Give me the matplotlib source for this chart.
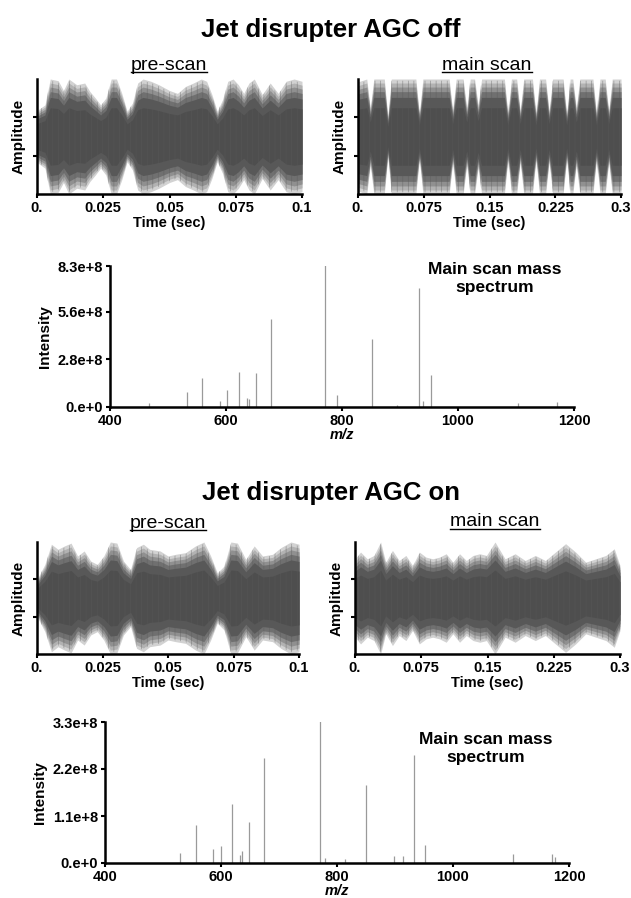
import matplotlib
matplotlib.use("Agg")
import matplotlib.pyplot as plt
from matplotlib.lines import Line2D
import numpy as np

plt.rcParams['font.family'] = ['Liberation Sans', 'DejaVu Sans']
plt.rcParams['hatch.linewidth'] = 0.5

# ---- time-domain transients: upper envelope (normalised) ----
pre_off_t = [0, 0.003, 0.005, 0.008, 0.010, 0.012, 0.015, 0.018, 0.020, 0.022, 0.024,
             0.026, 0.028, 0.030, 0.032, 0.034, 0.036, 0.038, 0.040, 0.043, 0.046,
             0.050, 0.053, 0.056, 0.059, 0.062, 0.064, 0.066, 0.068, 0.070, 0.072,
             0.074, 0.076, 0.078, 0.080, 0.082, 0.085, 0.088, 0.091, 0.094, 0.097, 0.1]
pre_off_amp = [0.45, 0.55, 1.0, 0.97, 0.8, 1.0, 0.9, 0.93, 0.78, 0.67, 0.55,
               0.67, 1.0, 1.0, 0.75, 0.44, 0.58, 0.93, 1.0, 0.96, 0.9,
               0.8, 0.75, 0.87, 0.93, 1.0, 0.96, 0.73, 0.44, 0.64, 0.96,
               1.0, 0.9, 0.75, 0.93, 1.0, 0.73, 0.93, 0.75, 0.96, 1.0, 0.96]

main_off_t = [0, 0.010, 0.014, 0.018, 0.030, 0.034, 0.038, 0.066, 0.070, 0.074,
              0.104, 0.108, 0.112, 0.120, 0.124, 0.128, 0.133, 0.137, 0.141,
              0.167, 0.171, 0.175, 0.181, 0.185, 0.189, 0.199, 0.203, 0.207,
              0.214, 0.218, 0.222, 0.234, 0.238, 0.242, 0.245, 0.249, 0.253,
              0.268, 0.272, 0.276, 0.282, 0.286, 0.290, 0.3]
main_off_amp = [0.95, 1.0, 0.5, 1.0, 1.0, 0.35, 1.0, 1.0, 0.4, 1.0,
                1.0, 0.45, 1.0, 1.0, 0.5, 1.0, 1.0, 0.55, 1.0,
                1.0, 0.4, 1.0, 1.0, 0.45, 1.0, 1.0, 0.4, 1.0,
                1.0, 0.45, 1.0, 1.0, 0.4, 1.0, 1.0, 0.5, 1.0,
                1.0, 0.4, 1.0, 1.0, 0.45, 1.0, 1.0]

pre_on_t = [0, 0.003, 0.0055, 0.008, 0.0105, 0.013, 0.0155, 0.018, 0.0205, 0.023,
            0.0255, 0.028, 0.0305, 0.033, 0.0357, 0.038, 0.0406, 0.043, 0.047, 0.050,
            0.0529, 0.0567, 0.0605, 0.0637, 0.0663, 0.0688, 0.0714, 0.074, 0.0765,
            0.0797, 0.0829, 0.0861, 0.0899, 0.0931, 0.0969, 0.1]
pre_on_amp = [0.33, 0.6, 0.96, 0.87, 0.93, 0.98, 0.75, 0.84, 0.66, 0.6,
              0.75, 1.0, 0.98, 0.66, 0.51, 0.9, 0.96, 0.87, 0.84, 0.75,
              0.78, 0.81, 0.93, 1.0, 0.75, 0.45, 0.57, 1.0, 0.98,
              0.69, 0.93, 0.75, 0.78, 0.9, 1.0, 0.96]

main_on_t = [0, 0.0063, 0.0139, 0.0215, 0.029, 0.0348, 0.0424, 0.05, 0.0576, 0.0652,
             0.0728, 0.0804, 0.088, 0.0956, 0.1032, 0.1108, 0.1184, 0.126, 0.1336,
             0.1412, 0.1488, 0.1585, 0.1699, 0.1813, 0.1927, 0.2041, 0.2155, 0.2269,
             0.2384, 0.2498, 0.2612, 0.2726, 0.284, 0.2935, 0.3]
main_on_amp = [0.7, 0.82, 0.7, 0.76, 1.0, 0.64, 0.85, 0.67, 0.76, 0.58,
               0.82, 0.73, 0.7, 0.73, 0.79, 0.64, 0.79, 0.67, 0.76,
               0.79, 0.76, 1.0, 0.7, 0.79, 0.67, 0.76, 0.67, 0.82,
               0.97, 0.82, 0.64, 0.7, 0.76, 0.88, 0.58]

pre_ticks = [0, 0.025, 0.05, 0.075, 0.1]
pre_labels = ['0.', '0.025', '0.05', '0.075', '0.1']
main_ticks = [0, 0.075, 0.15, 0.225, 0.3]
main_labels = ['0.', '0.075', '0.15', '0.225', '0.3']

# ---- mass spectra (m/z, intensity) ----
off_mz = [467, 533, 558, 589, 602, 622, 636, 640, 651, 678, 771, 792,
          852, 895, 933, 940, 953, 1103, 1171]
off_int = [0.25e8, 0.9e8, 1.72e8, 0.35e8, 1.02e8, 2.07e8, 0.55e8, 0.5e8, 2.0e8,
           5.2e8, 8.35e8, 0.7e8, 4.03e8, 0.1e8, 7.03e8, 0.35e8, 1.88e8, 0.25e8, 0.3e8]
off_yticks = [0, 2.8e8, 5.6e8, 8.3e8]
off_ylabels = ['0.e+0', '2.8e+8', '5.6e+8', '8.3e+8']

on_mz = [530, 557, 587, 600, 619, 633, 637, 649, 675, 771, 780, 813,
         850, 898, 914, 932, 952, 1104, 1170, 1176]
on_int = [0.23e8, 0.90e8, 0.33e8, 0.39e8, 1.37e8, 0.18e8, 0.28e8, 0.96e8, 2.46e8,
          3.32e8, 0.12e8, 0.1e8, 1.83e8, 0.16e8, 0.16e8, 2.52e8, 0.41e8, 0.2e8,
          0.2e8, 0.15e8]
on_yticks = [0, 1.1e8, 2.2e8, 3.3e8]
on_ylabels = ['0.e+0', '1.1e+8', '2.2e+8', '3.3e+8']
mz_ticks = [400, 600, 800, 1000, 1200]

W, H = 631, 898
fig = plt.figure(figsize=(W / 100, H / 100), dpi=100)


def box(l, r, t, b):
    return [l / W, 1 - b / H, (r - l) / W, (b - t) / H]


def style(ax):
    for s in ['top', 'right']:
        ax.spines[s].set_visible(False)
    for s in ['left', 'bottom']:
        ax.spines[s].set_linewidth(1.8)
    ax.tick_params(direction='out', length=3, width=1.5, pad=2, labelsize=10.5)
    for lab in ax.get_xticklabels() + ax.get_yticklabels():
        lab.set_fontweight('bold')


# shading layers for the transient band: (fraction of envelope, colour)
layers = [(1.0, '#d2d2d2'), (0.93, '#b2b2b2'), (0.86, '#909090'),
          (0.78, '#707070'), (0.68, '#585858'), (0.5, '#4e4e4e')]


def wave(rect, t, amp, ticks, labels, title, title_x, title_y):
    ax = fig.add_axes(box(*rect))
    t = np.asarray(t)
    amp = np.asarray(amp)
    for frac, col in layers:
        ax.fill_between(t, -frac * amp, frac * amp, color=col, lw=0)
    # faint vertical streaks in the fringe, like the raw transient
    ax.fill_between(t, -0.97 * amp, 0.97 * amp, facecolor='none',
                    edgecolor='#5a5a5a', hatch='|||', lw=0, alpha=0.5)
    ax.set_xlim(ticks[0], ticks[-1])
    ax.set_ylim(-1, 1)
    ax.set_xticks(ticks, labels)
    ax.set_yticks([-1 / 3, 1 / 3], ['', ''])
    ax.set_ylabel('Amplitude', fontsize=11, fontweight='bold', labelpad=3)
    ax.set_xlabel('Time (sec)', fontsize=10.5, fontweight='bold', labelpad=1)
    style(ax)
    txt = fig.text(title_x / W, 1 - title_y / H, title, fontsize=14,
                   ha='center', va='center')
    return txt


def spectrum(rect, mz, inten, yticks, ylabels, tx, ty):
    ax = fig.add_axes(box(*rect))
    ax.vlines(mz, 0, inten, color='#9a9a9a', lw=0.9)
    ax.set_xlim(400, 1200)
    ax.set_ylim(0, yticks[-1])
    ax.set_xticks(mz_ticks, [str(v) for v in mz_ticks])
    ax.set_yticks(yticks, ylabels)
    ax.set_ylabel('Intensity', fontsize=11, fontweight='bold', labelpad=4)
    ax.set_xlabel('m/z', fontsize=10.5, fontweight='bold', style='italic', labelpad=0)
    style(ax)
    ax.text(tx, ty, 'Main scan mass\nspectrum', transform=ax.transAxes,
            fontsize=12.5, fontweight='bold', ha='center', va='top', linespacing=1.25)


fig.text(331 / W, 1 - 30 / H, 'Jet disrupter AGC off', fontsize=18.5,
         fontweight='bold', ha='center', va='center')
fig.text(331 / W, 1 - 493 / H, 'Jet disrupter AGC on', fontsize=18.5,
         fontweight='bold', ha='center', va='center')

subs = []
subs.append(wave((37, 302, 79, 194), pre_off_t, pre_off_amp, pre_ticks, pre_labels,
                 'pre-scan', 169, 65))
subs.append(wave((358, 621, 79, 194), main_off_t, main_off_amp, main_ticks, main_labels,
                 'main scan', 487, 65))
subs.append(wave((37, 299, 542, 654), pre_on_t, pre_on_amp, pre_ticks, pre_labels,
                 'pre-scan', 168, 523))
subs.append(wave((355, 620, 542, 654), main_on_t, main_on_amp, main_ticks, main_labels,
                 'main scan', 495, 522))

spectrum((110, 574, 266, 407), off_mz, off_int, off_yticks, off_ylabels, 0.83, 1.03)
spectrum((105, 569, 722, 863), on_mz, on_int, on_yticks, on_ylabels, 0.82, 0.93)

# underline the panel titles
renderer = fig.canvas.get_renderer()
for txt in subs:
    bb = txt.get_window_extent(renderer).transformed(fig.transFigure.inverted())
    fig.add_artist(Line2D([bb.x0, bb.x1], [bb.y0 + 0.002, bb.y0 + 0.002],
                          transform=fig.transFigure, color='black', lw=1.0))

fig.savefig('out.png', dpi=100)
